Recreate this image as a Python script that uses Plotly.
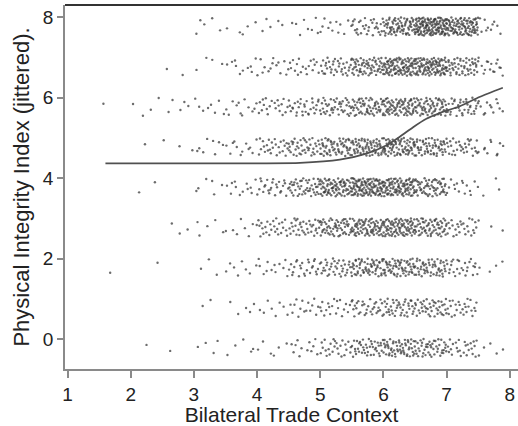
import numpy as np
import plotly.graph_objects as go

# ---- data ----
# Ordinal outcome levels (plotted with vertical jitter)
levels = [0, 1, 2, 3, 4, 5, 6, 7, 8]
# x-bin edges for the point counts (Bilateral Trade Context)
bin_edges = [1.5, 2.0, 2.5, 3.0, 3.5, 4.0, 4.5, 5.0, 5.5, 6.0, 6.5, 7.0, 7.5, 7.9]
# estimated number of observations per x-bin, for each level
counts_0 = [0, 1, 1, 4, 5, 6, 12, 25, 40, 55, 45, 25, 5]
counts_1 = [0, 0, 0, 2, 5, 8, 15, 20, 30, 40, 40, 25, 0]
counts_2 = [1, 1, 0, 3, 8, 12, 25, 35, 55, 60, 50, 25, 4]
counts_3 = [0, 0, 3, 5, 8, 25, 35, 55, 70, 80, 60, 25, 3]
counts_4 = [0, 2, 0, 6, 12, 25, 45, 75, 100, 90, 55, 15, 3]
counts_5 = [0, 1, 3, 8, 12, 25, 40, 55, 65, 70, 55, 30, 10]
counts_6 = [1, 4, 5, 8, 12, 20, 30, 40, 55, 70, 60, 35, 12]
counts_7 = [0, 0, 2, 4, 10, 14, 18, 35, 60, 90, 90, 50, 15]
counts_8 = [0, 0, 0, 5, 5, 5, 8, 12, 30, 70, 120, 90, 10]
all_counts = [counts_0, counts_1, counts_2, counts_3, counts_4,
              counts_5, counts_6, counts_7, counts_8]

# smoothed fit line
fit_x = [1.60, 4.05, 4.68, 5.31, 5.73, 6.05, 6.26, 6.47, 6.68, 6.89, 7.21, 7.52, 7.89]
fit_y = [4.37, 4.37, 4.38, 4.46, 4.61, 4.82, 5.03, 5.27, 5.48, 5.62, 5.79, 6.02, 6.25]

x_ticks = [1, 2, 3, 4, 5, 6, 7, 8]
y_ticks = [0, 2, 4, 6, 8]


# ---- deterministic jitter (Halton low-discrepancy placement inside each bin) ----
def halton(i, b):
    f, r = 1.0, 0.0
    while i > 0:
        f /= b
        r += f * (i % b)
        i //= b
    return r


JIT = 0.45
xs, ys = [], []
k = 0
for lev, cnts in zip(levels, all_counts):
    for i, c in enumerate(cnts):
        lo, hi = bin_edges[i], bin_edges[i + 1]
        for j in range(c):
            k += 1
            xs.append(lo + halton(k, 2) * (hi - lo))
            ys.append(lev - halton(k, 3) * JIT)

fig = go.Figure()
fig.add_trace(go.Scatter(
    x=xs, y=ys, mode="markers",
    marker=dict(size=2.4, color="rgba(45,45,45,0.7)", line=dict(width=0)),
    showlegend=False, hoverinfo="skip"))
fig.add_trace(go.Scatter(
    x=fit_x, y=fit_y, mode="lines", line=dict(color="#505050", width=1.8, shape="spline", smoothing=0.6),
    showlegend=False))

font = "Liberation Sans, Arial, Helvetica, sans-serif"
fig.update_layout(
    width=518, height=426,
    margin=dict(l=65, r=0, t=5, b=57),
    paper_bgcolor="white", plot_bgcolor="white",
    font=dict(family=font, size=19, color="#222222"),
    xaxis=dict(range=[0.96, 8.13], tickvals=x_ticks, showgrid=False, zeroline=False,
               showline=True, linecolor="#8a8a8a", linewidth=1.5, automargin=False,
               ticks="outside", ticklen=7, tickcolor="#8a8a8a", tickwidth=1.5,
               title=dict(text="Bilateral Trade Context", font=dict(size=21), standoff=5),
               tickfont=dict(size=19)),
    yaxis=dict(range=[-0.75, 8.31], tickvals=y_ticks, showgrid=False, zeroline=False,
               showline=True, linecolor="#8a8a8a", linewidth=1.5, automargin=False,
               ticks="outside", ticklen=6, tickcolor="#8a8a8a", tickwidth=1.5,
               title=dict(text="Physical Integrity Index (jittered).", font=dict(size=22), standoff=7),
               tickfont=dict(size=19)),
    shapes=[dict(type="line", xref="paper", yref="paper", x0=0, x1=1, y0=1, y1=1,
                 line=dict(color="#333333", width=2))],
)
fig.write_html("out.html", config={"displayModeBar": False},
               post_script="document.body.style.margin='0';")
